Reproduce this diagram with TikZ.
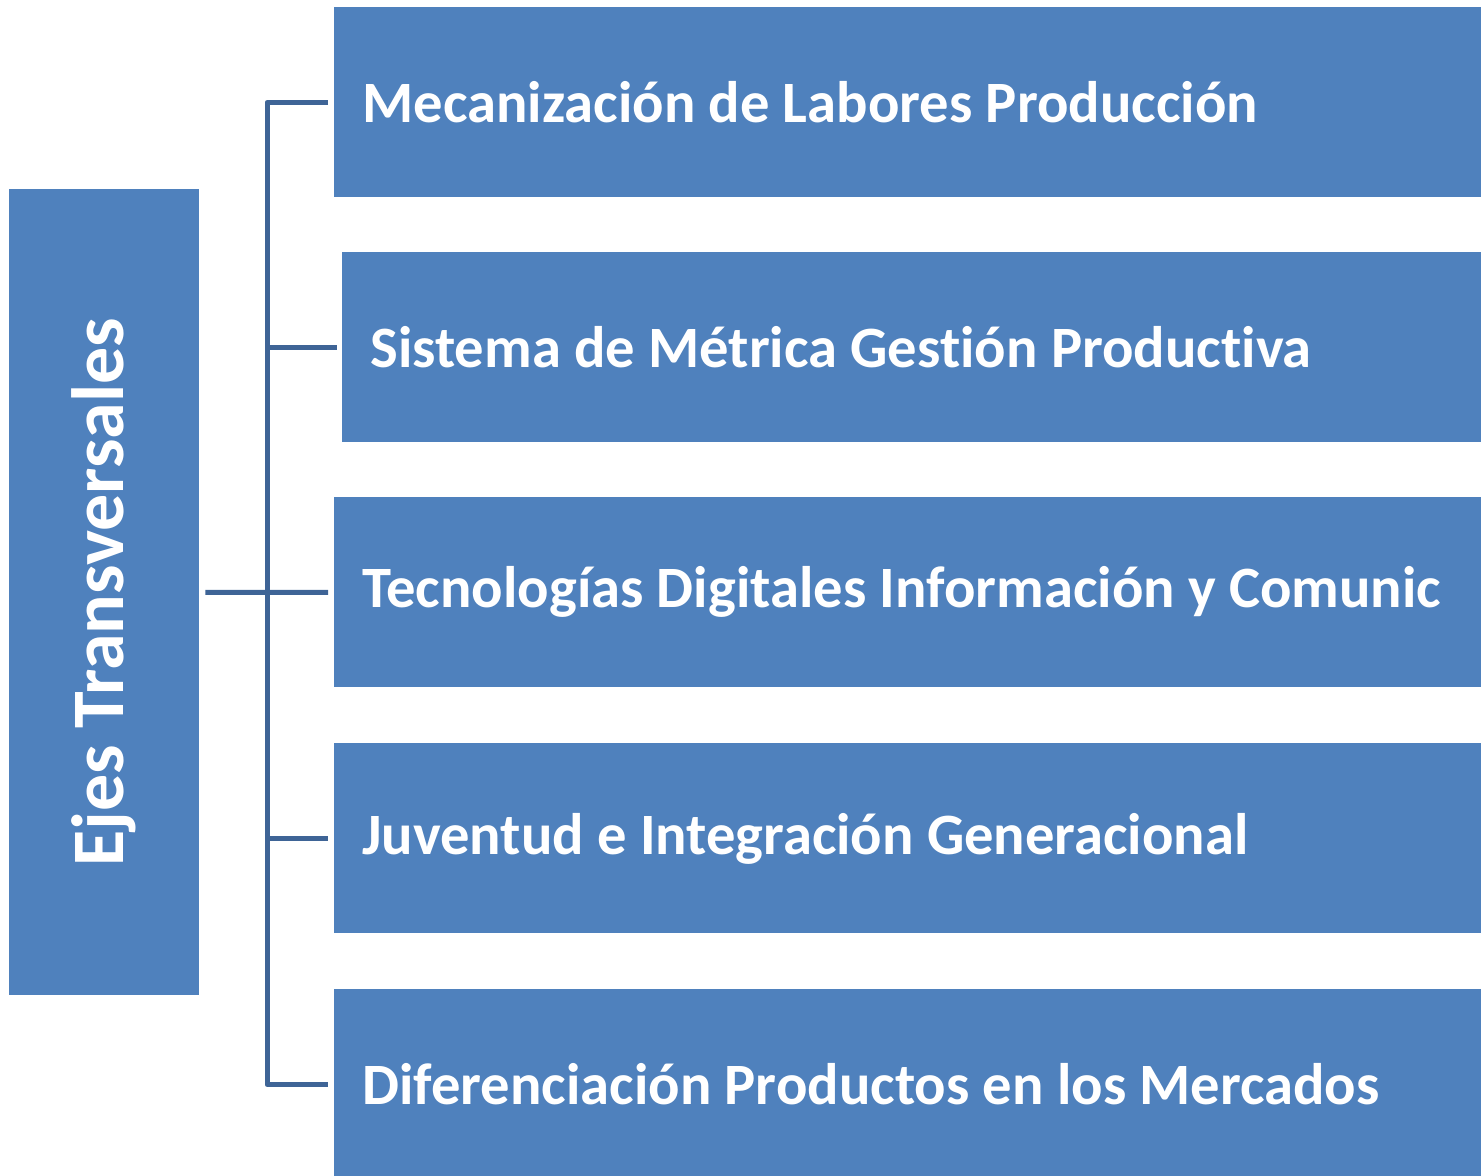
\documentclass[tikz,border=0pt]{standalone}
\usepackage{fontspec}
\setmainfont{Carlito}[Ligatures=NoCommon]
\usetikzlibrary{positioning}
\definecolor{boxblue}{HTML}{4F81BD}
\definecolor{linkblue}{HTML}{3E6496}
\tikzset{
  eje/.style={fill=boxblue, text=white, font=\bfseries\fontsize{29.3}{35}\selectfont,
    anchor=north west, minimum height=95pt, text width=545.5pt, align=flush left,
    inner xsep=14pt, inner ysep=0pt},
  link/.style={draw=linkblue, line width=2.5pt, line join=round}
}
\begin{document}
\begin{tikzpicture}[x=0.5pt,y=-0.5pt]
    \useasboundingbox (0,0) rectangle (1481,1176);
    \node[fill=boxblue, text=white, font=\bfseries\fontsize{37}{44}\selectfont,
      rotate=90, minimum width=402.75pt, minimum height=95.25pt, inner sep=0pt]
      (ejes) at (103.75,592.25) {Ejes Transversales};
    \node[eje] (b1) at (334,7) {Mecanización de Labores Producción};
    \node[eje, text width=541.5pt] (b2) at (342,252) {Sistema de Métrica Gestión Productiva};
    \node[eje] (b3) at (334,497) {Tecnologías Digitales Información y Comunic};
    \node[eje] (b4) at (334,743) {Juventud e Integración Generacional};
    \node[eje] (b5) at (334,989) {Diferenciación Productos en los Mercados};
    \coordinate (spine) at (267,0);
    \draw[link] ([xshift=-3pt]b1.west) -- (b1.west -| spine) -- (b5.west -| spine) -- ([xshift=-3pt]b5.west);
    \draw[link] (b2.west -| spine) -- ([xshift=-2.5pt]b2.west);
    \draw[link] (b4.west -| spine) -- ([xshift=-3pt]b4.west);
    \draw[link] ([xshift=3pt]ejes.south) -- ([xshift=-3pt]b3.west);
\end{tikzpicture}
\end{document}
